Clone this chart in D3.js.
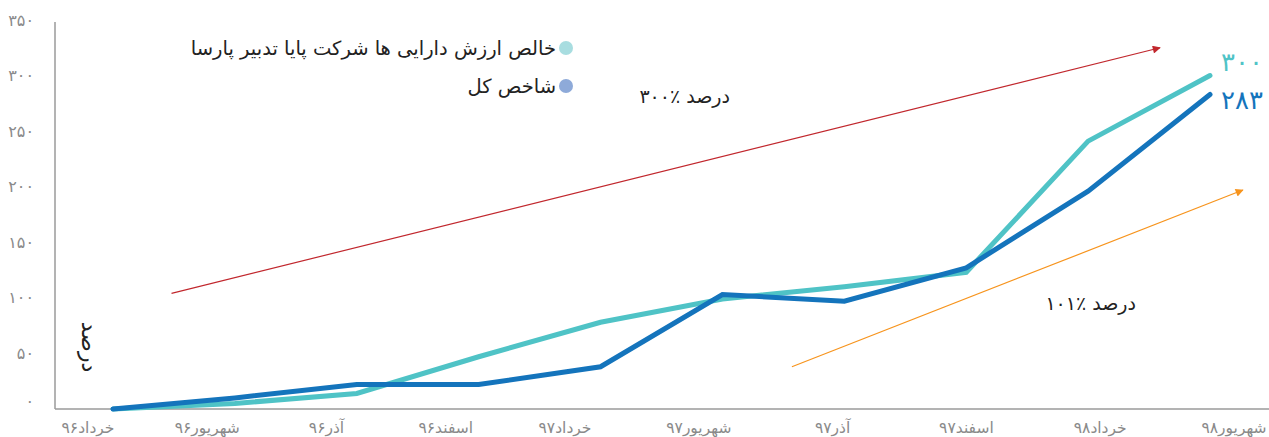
<!DOCTYPE html>
<html>
<head>
<meta charset="utf-8">
<script src="https://cdn.jsdelivr.net/npm/d3@7"></script>
<style>
  body { margin: 0; background: #fff; }
  text { font-family: "DejaVu Sans", "Noto Sans", sans-serif; }
</style>
</head>
<body>
<div id="chart"></div>
<script>
const WIDTH = 1269;
const HEIGHT = 437;

// periods (shamsi calendar)
const periods = ["خرداد۹۶", "شهریور۹۶", "آذر۹۶", "اسفند۹۶", "خرداد۹۷", "شهریور۹۷", "آذر۹۷", "اسفند۹۷", "خرداد۹۸", "شهریور۹۸"];
const fundValues = [0, 5, 14, 47, 78, 99, 110, 123, 241, 300]; // خالص ارزش دارایی ها
const indexValues = [0, 10, 22, 22, 38, 103, 97, 127, 196, 283]; // شاخص کل
const yTicks = [0, 50, 100, 150, 200, 250, 300, 350];
const seriesNames = ["خالص ارزش دارایی ها شرکت پایا تدبیر پارسا", "شاخص کل"];
const endLabels = ["۳۰۰", "۲۸۳"];

// trend arrows in data units: [fromIndex, fromValue, toIndex, toValue]
const redArrow = [0.48, 104, 8.59, 325];
const orangeArrow = [5.57, 38, 9.27, 197];
const arrowLabels = ["۳۰۰٪ درصد", "۱۰۱٪ درصد"];

const toFa = (n) => String(n).replace(/\d/g, (d) => "۰۱۲۳۴۵۶۷۸۹"[d]);

const TEAL = "#4fc3c6";
const BLUE = "#1474bc";

var svg = d3.select("#chart").append("svg")
  .attr("width", WIDTH)
  .attr("height", HEIGHT);

var x = d3.scaleLinear().domain([0, periods.length - 1]).range([113, 1210]);
var y = d3.scaleLinear().domain([0, 350]).range([409, 20]);
// the category labels are not quite under the points in the original
var xLabel = d3.scaleLinear().domain([0, 4, 9]).range([88, 565, 1234]);

// axes lines
svg.append("line")
  .attr("x1", 55).attr("x2", 55)
  .attr("y1", 22).attr("y2", y(0))
  .attr("stroke", "#9a9a9a").attr("stroke-width", 1.5);
svg.append("line")
  .attr("x1", 55).attr("x2", WIDTH)
  .attr("y1", y(0)).attr("y2", y(0))
  .attr("stroke", "#9a9a9a").attr("stroke-width", 1.5);

// y tick labels
svg.append("g").selectAll("text")
  .data(yTicks)
  .join("text")
    .attr("x", 34)
    .attr("y", (d) => d == 0 ? y(d) - 8 : y(d))
    .attr("dy", "0.35em")
    .attr("text-anchor", "end")
    .attr("fill", "#8a8a8a")
    .style("font-size", "16px")
    .text((d) => toFa(d));

// x tick labels
svg.append("g").selectAll("text")
  .data(periods)
  .join("text")
    .attr("x", (d, i) => xLabel(i))
    .attr("y", 433)
    .attr("text-anchor", "middle")
    .attr("fill", "#8a8a8a")
    .style("font-size", "15.5px")
    .text((d) => d);

// y axis title
svg.append("text")
  .attr("transform", "translate(82,347) rotate(90)")
  .attr("text-anchor", "middle")
  .attr("fill", "#222")
  .style("font-size", "22px")
  .text("درصد");

// arrows
var defs = svg.append("defs");
[["red", "#c1272d"], ["orange", "#f7941d"]].forEach(([id, c]) => {
  defs.append("marker")
    .attr("id", "arrow-" + id)
    .attr("viewBox", "0 0 10 10")
    .attr("refX", 9).attr("refY", 5)
    .attr("markerWidth", 11).attr("markerHeight", 8)
    .attr("markerUnits", "userSpaceOnUse")
    .attr("orient", "auto")
    .append("path")
      .attr("d", "M0,0 L10,5 L0,10 Z")
      .attr("fill", c);
});

svg.append("line")
  .attr("x1", x(redArrow[0])).attr("y1", y(redArrow[1]))
  .attr("x2", x(redArrow[2])).attr("y2", y(redArrow[3]))
  .attr("stroke", "#c1272d").attr("stroke-width", 1.2)
  .attr("marker-end", "url(#arrow-red)");
svg.append("line")
  .attr("x1", x(orangeArrow[0])).attr("y1", y(orangeArrow[1]))
  .attr("x2", x(orangeArrow[2])).attr("y2", y(orangeArrow[3]))
  .attr("stroke", "#f7941d").attr("stroke-width", 1.2)
  .attr("marker-end", "url(#arrow-orange)");

svg.append("text")
  .attr("x", 730).attr("y", 103)
  .attr("text-anchor", "end")
  .attr("fill", "#222")
  .style("font-size", "19px")
  .text(arrowLabels[0]);
svg.append("text")
  .attr("x", 1136).attr("y", 310)
  .attr("text-anchor", "end")
  .attr("fill", "#222")
  .style("font-size", "19px")
  .text(arrowLabels[1]);

// lines
var line = d3.line()
  .x((d, i) => x(i))
  .y((d) => y(d));

svg.append("path")
  .datum(fundValues)
  .attr("d", line)
  .attr("fill", "none")
  .attr("stroke", TEAL)
  .attr("stroke-width", 5)
  .attr("stroke-linecap", "round");

svg.append("path")
  .datum(indexValues)
  .attr("d", line)
  .attr("fill", "none")
  .attr("stroke", BLUE)
  .attr("stroke-width", 5)
  .attr("stroke-linecap", "round");

// end labels
svg.append("text")
  .attr("x", 1221).attr("y", y(fundValues[9]) - 14)
  .attr("dy", "0.35em")
  .attr("fill", TEAL)
  .style("font-size", "26px")
  .text(endLabels[0]);
svg.append("text")
  .attr("x", 1221).attr("y", y(indexValues[9]) + 5)
  .attr("dy", "0.35em")
  .attr("fill", BLUE)
  .style("font-size", "26px")
  .text(endLabels[1]);

// legend
var legend = svg.append("g").attr("transform", "translate(566,0)");
var legendDots = ["#a8dde0", "#8eaad9"];
legend.selectAll("circle")
  .data(seriesNames)
  .join("circle")
    .attr("cx", 0)
    .attr("cy", (d, i) => 48 + i * 38)
    .attr("r", 7)
    .attr("fill", (d, i) => legendDots[i]);
legend.selectAll("text")
  .data(seriesNames)
  .join("text")
    .attr("x", -10)
    .attr("y", (d, i) => 48 + i * 38)
    .attr("dy", "0.35em")
    .attr("text-anchor", "end")
    .attr("fill", "#222")
    .style("font-size", "19.5px")
    .text((d) => d);
</script>
</body>
</html>
